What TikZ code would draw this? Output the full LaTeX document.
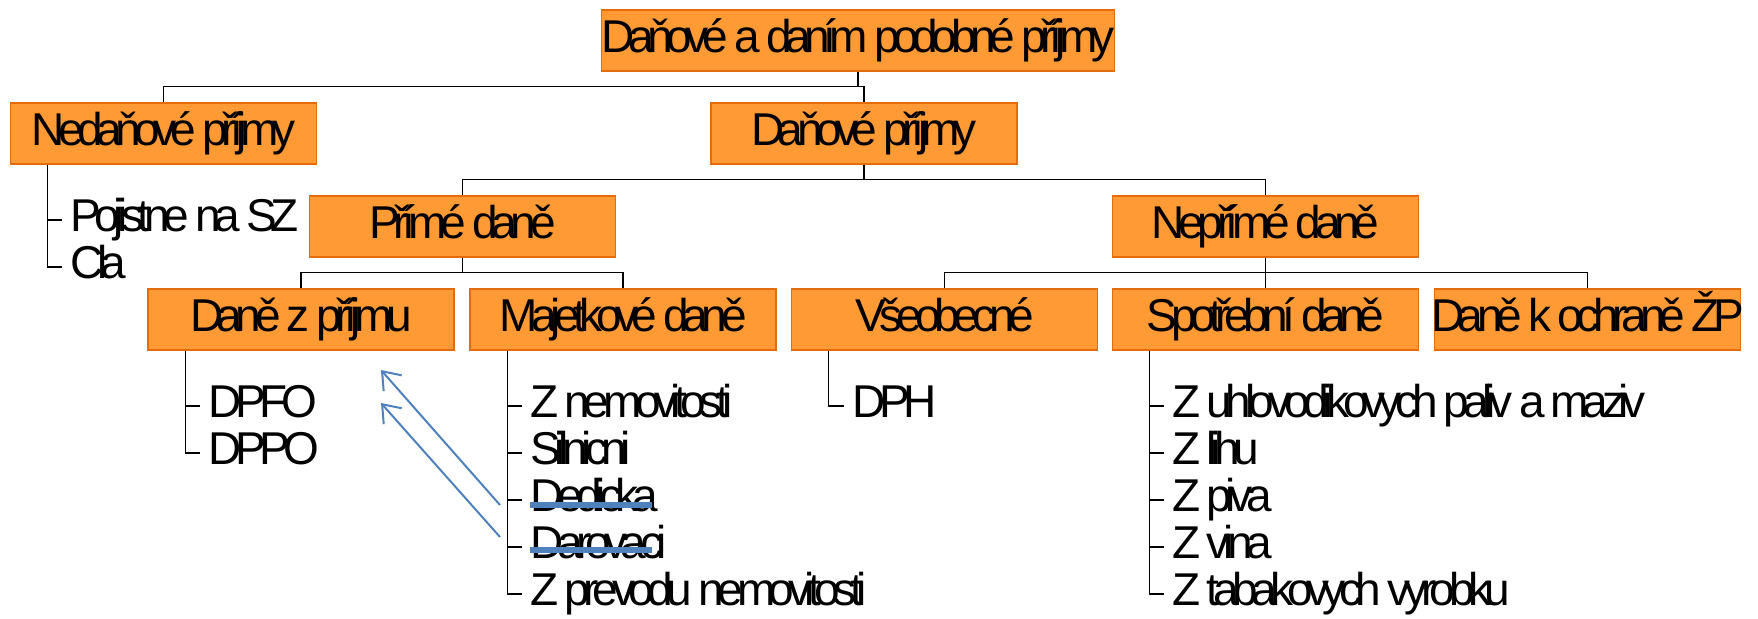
\documentclass[tikz,border=0pt]{standalone}
\usepackage{fontspec}
\setmainfont[LetterSpace=-14]{Liberation Sans}
\usetikzlibrary{arrows.meta}
\definecolor{boxfill}{HTML}{FF9A35}
\definecolor{boxline}{HTML}{E46C0A}
\definecolor{noteblue}{HTML}{4F81BD}

\begin{document}
\begin{tikzpicture}[x=0.5pt, y=-0.5pt,
	every node/.style={font=\fontsize{23}{27}\selectfont, text height=17pt, text depth=5.5pt},
	catbox/.style={draw=boxline, fill=boxfill, line width=0.7pt, minimum width=153pt, minimum height=30.5pt, inner sep=0pt},
	itembox/.style={anchor=west, inner xsep=4pt, inner ysep=0pt},
	conn/.style={line width=0.6pt, black},
	strike/.style={line width=2.6pt, noteblue},
	hint/.style={line width=1pt, noteblue, -{Straight Barb[length=8pt, width=12pt]}}]
	\useasboundingbox (0,0) rectangle (1758,618);
	
	% Categories
	\node[catbox, minimum width=255pt] (top) at (858,40.5) {Daňové a daním podobné příjmy};
	\node[catbox] (nedan) at (163.5,133.5) {Nedaňové příjmy};
	\node[catbox] (dan) at (864,133.5) {Daňové příjmy};
	\node[catbox] (prime) at (462.5,226.5) {Přímé daně};
	\node[catbox] (neprime) at (1265.5,226.5) {Nepřímé daně};
	\node[catbox] (dprijem) at (301,319.5) {Daně z příjmu};
	\node[catbox] (majet) at (623,319.5) {Majetkové daně};
	\node[catbox] (vseob) at (944.5,319.5) {Všeobecné};
	\node[catbox] (spotr) at (1265.5,319.5) {Spotřební daně};
	\node[catbox] (ekol) at (1587.5,319.5) {\makebox[150pt]{Daně k ochraně ŽP}};
	
	% Tree edges
	\foreach \c in {nedan,dan}
	\draw[conn] (top.south) -- ++(0,15) -| (\c.north);
	\foreach \c in {prime,neprime}
	\draw[conn] (dan.south) -- ++(0,15) -| (\c.north);
	\foreach \c in {dprijem,majet}
	\draw[conn] (prime.south) -- ++(0,15) -| (\c.north);
	\foreach \c in {vseob,spotr,ekol}
	\draw[conn] (neprime.south) -- ++(0,15) -| (\c.north);
	
	% Items
	\node[itembox] (pojist) at (62,220) {Pojistne na SZ};
	\node[itembox] (cla) at (62,267) {Cla};
	\node[itembox] (dpfo) at (200,406) {DPFO};
	\node[itembox] (dppo) at (200,453) {DPPO};
	\node[itembox] (znemov) at (522,406) {Z nemovitosti};
	\node[itembox] (silnic) at (522,453) {Silnicni};
	\node[itembox] (dedic) at (522,500) {Dedicka};
	\node[itembox] (darov) at (522,547) {Darovaci};
	\node[itembox] (zprevod) at (522,594) {Z prevodu nemovitosti};
	\node[itembox] (dph) at (844,406) {DPH};
	\node[itembox] (zuhlov) at (1164,406) {Z uhlovodikovych paliv a maziv};
	\node[itembox] (zlihu) at (1164,453) {Z lihu};
	\node[itembox] (zpiva) at (1164,500) {Z piva};
	\node[itembox] (zvina) at (1164,547) {Z vina};
	\node[itembox] (ztabak) at (1164,594) {Z tabakovych vyrobku};
	
	% Item lists
	\foreach \i in {pojist,cla}
	\draw[conn] ([xshift=19pt]nedan.south west) |- (\i.west);
	\foreach \i in {dpfo,dppo}
	\draw[conn] ([xshift=19pt]dprijem.south west) |- (\i.west);
	\foreach \i in {znemov,silnic,dedic,darov,zprevod}
	\draw[conn] ([xshift=19pt]majet.south west) |- (\i.west);
	\draw[conn] ([xshift=19pt]vseob.south west) |- (dph.west);
	\foreach \i in {zuhlov,zlihu,zpiva,zvina,ztabak}
	\draw[conn] ([xshift=19pt]spotr.south west) |- (\i.west);
	
	% Struck-out taxes
	\draw[strike] ([xshift=4pt,yshift=-2.5pt]dedic.west) -- ++(122,0);
	\draw[strike] ([xshift=4pt,yshift=-1.5pt]darov.west) -- ++(122,0);
	
	% Moved to income tax
	\coordinate (dedtail) at (500,505);
	\coordinate (dedhead) at (381,370);
	\coordinate (darovtail) at (500,537);
	\coordinate (darovhead) at (381,403);
	\draw[hint] (dedtail) -- (dedhead);
	\draw[hint] (darovtail) -- (darovhead);
\end{tikzpicture}
\end{document}
